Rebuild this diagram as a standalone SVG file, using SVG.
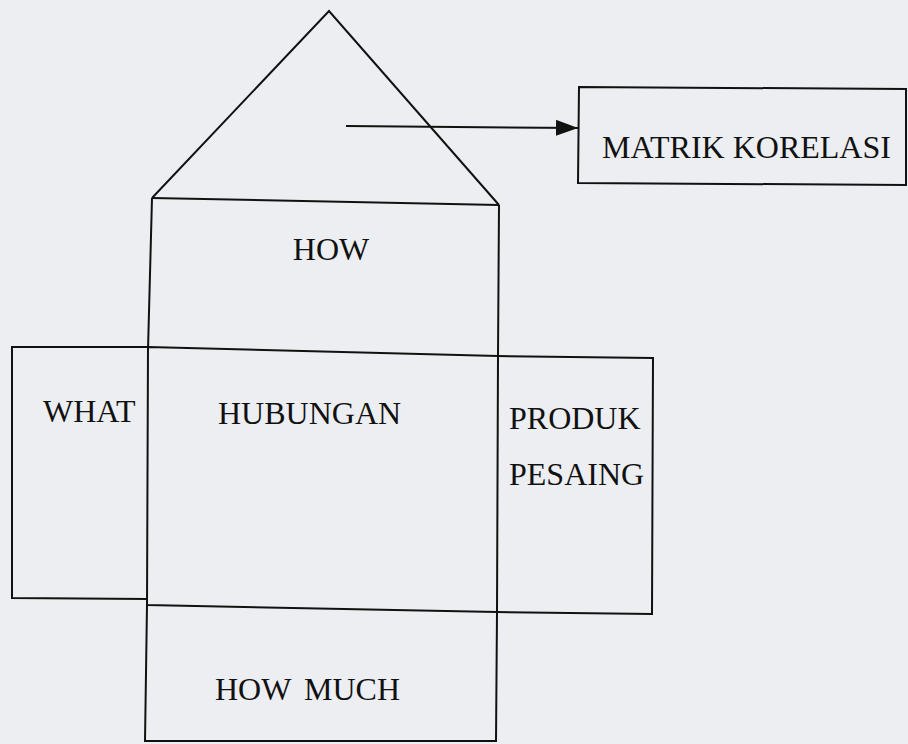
<svg xmlns="http://www.w3.org/2000/svg" width="908" height="744" viewBox="0 0 908 744">
<style>
.ln{fill:none;stroke:#111;stroke-width:2;stroke-linejoin:miter}
.t{font-family:"Liberation Serif","Times New Roman",serif;font-size:32px;fill:#111}
</style>
<defs>
<marker id="ah" markerWidth="22" markerHeight="16" refX="22" refY="8" orient="auto" markerUnits="userSpaceOnUse" viewBox="0 0 22 16">
<path d="M0,0 L22,8 L0,16 z" fill="#111"/>
</marker>
</defs>
<rect width="908" height="744" fill="#eceef1"/>
<g id="roof">
<path class="ln" d="M152,198 L329,11 L499,205"/>
<path class="ln" d="M152,198 L499,205"/>
</g>
<g id="how">
<path class="ln" d="M152,198 L148,350 M499,205 L498,356"/>
<text class="t" x="331" y="260" text-anchor="middle">HOW</text>
</g>
<g id="what">
<path class="ln" d="M148,347 L12,347 L12,598 L147,599"/>
<text class="t" x="43" y="422">WHAT</text>
</g>
<g id="hubungan">
<path class="ln" d="M148,347 L498,356 M148,347 L147,605 M498,356 L497,612 M147,605 L497,612"/>
<text class="t" x="218" y="424">HUBUNGAN</text>
</g>
<g id="produk">
<path class="ln" d="M498,356 L653,358 L652,614 L497,612"/>
<text class="t" x="509" y="429">PRODUK</text>
<text class="t" x="509" y="485">PESAING</text>
</g>
<g id="howmuch">
<path class="ln" d="M147,605 L145,741 L496,741 L497,612"/>
<text class="t" x="215" y="700"><tspan>HOW</tspan><tspan x="304">MUCH</tspan></text>
</g>
<g id="matrik">
<path class="ln" d="M579,87 L906,89 L906,185 L578,183 Z"/>
<text class="t" x="602" y="158">MATRIK KORELASI</text>
</g>
<g id="connectors">
<line class="ln" x1="346" y1="126" x2="578" y2="128" marker-end="url(#ah)"/>
</g>
</svg>
